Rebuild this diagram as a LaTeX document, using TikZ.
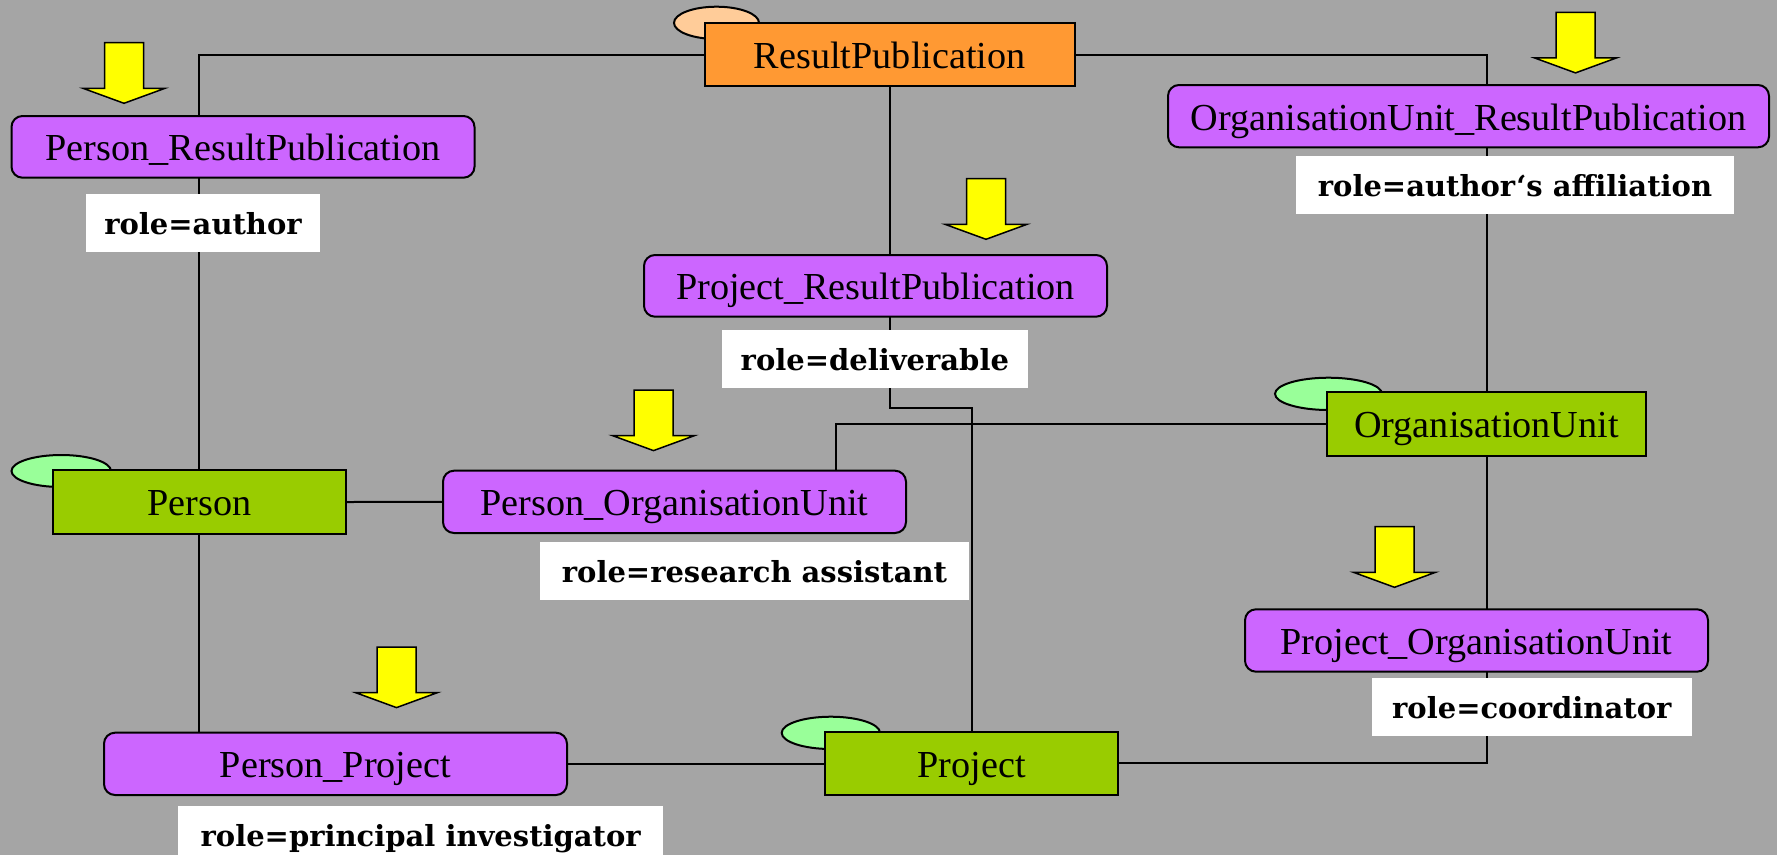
\documentclass[tikz,border=0pt]{standalone}
\usepackage{fontspec}
\setmainfont{Liberation Serif}
\newfontfamily\labfont{DejaVu Serif}
\usetikzlibrary{shapes.geometric}
\definecolor{bggray}{HTML}{A5A5A5}
\definecolor{entgreen}{HTML}{99CC00}
\definecolor{linkpurple}{HTML}{CC66FF}
\definecolor{resorange}{HTML}{FF9933}
\definecolor{ovalgreen}{HTML}{99FF99}
\definecolor{ovalpeach}{HTML}{FFCC99}
\definecolor{arrowyellow}{HTML}{FFFF00}
\pgfdeclarelayer{bg}
\pgfdeclarelayer{lines}
\pgfsetlayers{bg,lines,main}
\tikzset{
  entity/.style={draw, line width=2pt, fill=entgreen, inner sep=0pt,
    minimum height=63.5pt, font=\fontsize{38.2}{40}\selectfont,
    text height=27.8pt, text depth=0pt},
  linkbox/.style={entity, fill=linkpurple, rounded corners=11pt,
    minimum width=463pt, minimum height=62pt},
  rolelabel/.style={fill=white, inner sep=0pt, minimum height=57.7pt,
    font=\labfont\bfseries\fontsize{29}{31}\selectfont,
    text height=23.8pt, text depth=0pt},
  oval/.style={ellipse, draw, line width=2pt, inner sep=0pt},
  conn/.style={draw, line width=2pt},
  dnarrow/.pic={\draw[fill=arrowyellow, line width=1.5pt, line join=miter]
    (-19.5,0) -- (19.5,0) -- (19.5,45.6) -- (41,45.6) -- (0,60.6)
    -- (-41,45.6) -- (-19.5,45.6) -- cycle;}
}
\begin{document}
\begin{tikzpicture}[x=1pt,y=-1pt]
\useasboundingbox (0,0) rectangle (1777,855);
\begin{pgfonlayer}{bg}
\fill[bggray] (0,0) rectangle (1777,855);
\end{pgfonlayer}
% ovals behind entity boxes
\node[oval, fill=ovalpeach, minimum width=85pt, minimum height=32.3pt] (orp) at (716.5,22.85) {};
\node[oval, fill=ovalgreen, minimum width=107pt, minimum height=32.3pt] (oou) at (1328.5,393.85) {};
\node[oval, fill=ovalgreen, minimum width=99.5pt, minimum height=32pt] (operson) at (61.25,471) {};
\node[oval, fill=ovalgreen, minimum width=98.3pt, minimum height=32.3pt] (oproj) at (830.85,732.85) {};
% entities
\node[entity, fill=resorange, minimum width=370.5pt, minimum height=62.7pt] (rp) at (889.75,54.65) {ResultPublication};
\node[entity, minimum width=319pt, minimum height=63.7pt] (ou) at (1486.5,423.85) {OrganisationUnit};
\node[entity, minimum width=293pt, minimum height=64pt] (person) at (199.4,502) {Person};
\node[entity, minimum width=293pt, minimum height=63.3pt] (proj) at (971.5,763.35) {Project};
% link entities
\node[linkbox, minimum height=61.7pt] (prp) at (243,146.85) {Person\_ResultPublication};
\node[linkbox, minimum width=601pt, minimum height=62.3pt] (ourp) at (1468.5,116.15) {OrganisationUnit\_ResultPublication};
\node[linkbox, minimum height=61.7pt] (pjrp) at (875.5,285.85) {Project\_ResultPublication};
\node[linkbox, minimum height=62.3pt] (pou) at (674.5,501.85) {Person\_OrganisationUnit};
\node[linkbox, minimum height=62.3pt] (pp) at (335.5,763.85) {Person\_Project};
\node[linkbox, minimum height=62.4pt] (pjou) at (1476.5,640.5) {Project\_OrganisationUnit};
% role labels
\node[rolelabel, minimum width=234pt] (lauthor) at (203,222.85) {role=author};
\node[rolelabel, minimum width=438pt] (laff) at (1515,184.85) {role=author‘s affiliation};
\node[rolelabel, minimum width=306.3pt] (ldel) at (874.85,358.75) {role=deliverable};
\node[rolelabel, minimum width=429pt] (lres) at (754.5,571) {role=research assistant};
\node[rolelabel, minimum width=319.5pt] (lcoord) at (1531.75,706.85) {role=coordinator};
\node[rolelabel, minimum width=485.4pt] (lpi) at (420.7,834.85) {role=principal investigator};
% yellow arrows
\pic at (124,42.7) {dnarrow};
\pic at (986,178.7) {dnarrow};
\pic at (1575.5,12.3) {dnarrow};
\pic at (653.5,390) {dnarrow};
\pic at (396.5,647) {dnarrow};
\pic at (1394.5,526.7) {dnarrow};
% connectors
\coordinate (jog) at (0,408.3);
\coordinate (pouTop) at ([xshift=161.2pt]pou.north);
\begin{pgfonlayer}{lines}
\path[conn] (person.north) |- (rp.west);
\path[conn] (rp.east) -| (ou.north);
\path[conn] (rp.south) -- (rp.south |- jog) -| (proj.north);
\path[conn] (ou.west) -| (pouTop);
\path[conn] (person.east) -- (pou.west);
\path[conn] (person.south) -- (person.south |- pp.north);
\path[conn] (pp.east) -- (pp.east -| proj.west);
\path[conn] (proj.east) -| (ou.south);
\end{pgfonlayer}
\end{tikzpicture}
\end{document}
